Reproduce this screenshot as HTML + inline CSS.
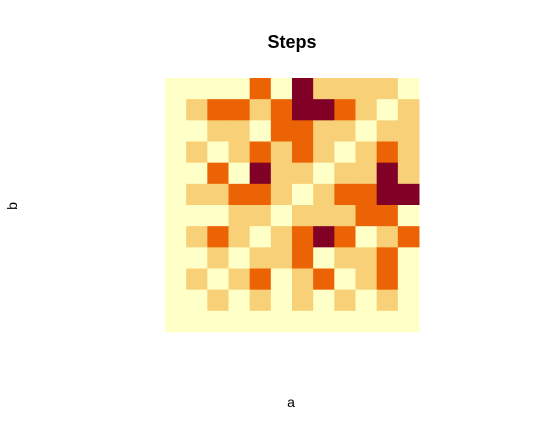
<!DOCTYPE html>
<html><head><meta charset="utf-8"><style>
html,body{margin:0;padding:0;background:#fff;}
svg{display:block;font-family:"Liberation Sans",sans-serif;}
</style></head><body>
<svg id="chart" width="546" height="431">
<text x="292" y="48" text-anchor="middle" font-size="18" font-weight="bold">Steps</text>
<text x="291" y="407" text-anchor="middle" font-size="14">a</text>
<text x="17" y="206" text-anchor="middle" font-size="14" transform="rotate(-90 17 206)">b</text>
<g id="cells"></g>
</svg>
<script>
const colLabels=[1,2,3,4,5,6,7,8,9,10,11,12];
const rowLabels=[1,2,3,4,5,6,7,8,9,10,11,12];
const palette=["#FFFFC8","#F8D077","#EC6305","#800026"];
const values=[
[0,0,0,0,2,0,3,1,1,1,1,0],
[0,1,2,2,1,2,3,3,2,1,0,1],
[0,0,1,1,0,2,2,1,1,0,1,1],
[0,1,0,1,2,1,2,1,0,1,2,1],
[0,0,2,0,3,1,1,0,1,1,3,1],
[0,1,1,2,2,1,0,1,2,2,3,3],
[0,0,0,1,1,0,1,1,1,2,2,0],
[0,1,2,1,0,1,2,3,2,0,1,2],
[0,0,1,0,1,1,2,0,1,1,2,0],
[0,1,0,1,2,0,1,2,0,1,2,0],
[0,0,1,0,1,0,1,0,1,0,1,0],
[0,0,0,0,0,0,0,0,0,0,0,0]
];
const X0=165,X1=419,Y0=78,Y1=332;
const cw=(X1-X0)/colLabels.length, ch=(Y1-Y0)/rowLabels.length;
function xs(i){return X0+i*cw;}
function ys(j){return Y0+j*ch;}
const g=document.getElementById('cells');
values.forEach((row,j)=>row.forEach((v,i)=>{
  const r=document.createElementNS('http://www.w3.org/2000/svg','rect');
  r.setAttribute('x',xs(i));r.setAttribute('y',ys(j));
  r.setAttribute('width',cw+0.5);r.setAttribute('height',ch+0.5);
  r.setAttribute('fill',palette[v]);
  
  
  g.appendChild(r);
}));
</script>
</body></html>
